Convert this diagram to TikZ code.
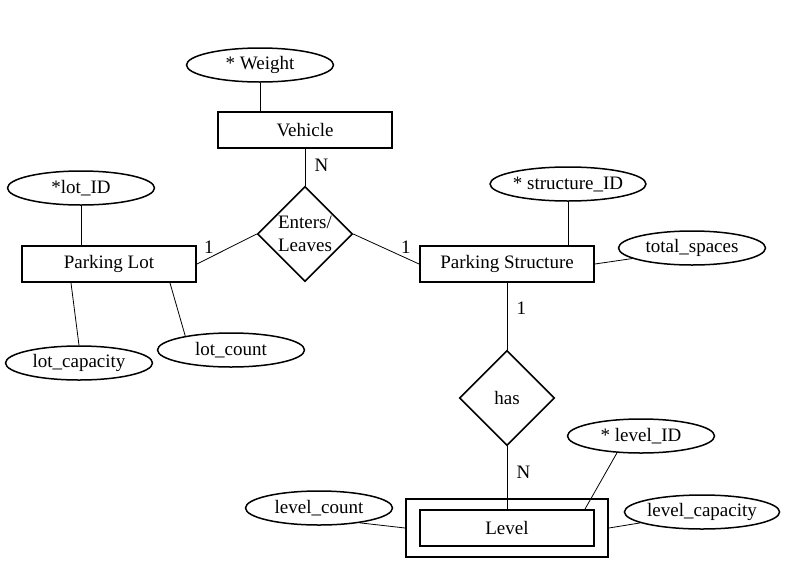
\documentclass[tikz,border=0pt]{standalone}
\usepackage{fontspec}
\setmainfont{Liberation Serif}
\usepackage{tikz}
\usetikzlibrary{shapes.geometric,fit}

\begin{document}
\begin{tikzpicture}[x=1pt,y=-1pt,
        every node/.style={font=\fontsize{19}{23}\selectfont},
        entity/.style={draw,line width=1.9pt,minimum width=174pt,minimum height=36pt,inner sep=0pt},
        attr/.style={draw,ellipse,line width=1.5pt,minimum width=147pt,minimum height=34pt,inner sep=0pt},
        rel/.style={draw,diamond,line width=1.6pt,minimum width=95pt,minimum height=95pt,inner sep=-3pt,align=center},
        link/.style={line width=0.8pt}]
        \useasboundingbox (0,0) rectangle (792,576);
        \node[entity] (vehicle) at (305,130) {Vehicle};
        \node[entity] (lot) at (109,264) {Parking Lot};
        \node[entity] (structure) at (507,264) {Parking Structure};
        \node[entity] (level) at (507,528) {Level};
        \node[draw,line width=1.9pt,fit=(level),inner xsep=13pt,inner ysep=10pt] (levelframe) {};
        \node[rel] (enters) at (305,234) {Enters/\\Leaves};
        \node[rel] (has) at (507,398) {has};
        \foreach \name/\x/\y/\txt in {
            weight/260/65/{* Weight},
            lotid/81/188/{*lot\_ID},
            lotcap/79/363/{lot\_capacity},
            lotcount/231/350/{lot\_count},
            structid/568/184/{* structure\_ID},
            spaces/692/248/{total\_spaces},
            levelid/641/436/{* level\_ID},
            levelcap/702/512/{level\_capacity},
            levelcount/319/508/{level\_count}
        } {
            \node[attr] (\name) at (\x,\y) {\txt};
        }
        \draw[link] (weight.south) -- (weight.south |- vehicle.north);
        \draw[link] (vehicle) -- node[right=6pt,pos=0.45] {N} (enters);
        \draw[link] (lot.east) -- node[above=1pt,pos=0.2] {1} (enters.west);
        \draw[link] (enters.east) -- node[above=1pt,pos=0.8] {1} (structure.west);
        \draw[link] (lotid.south) -- (lotid.south |- lot.north);
        \draw[link] ([xshift=-38pt]lot.south) -- (lotcap.north);
        \draw[link] ([xshift=61pt]lot.south) -- (lotcount.163);
        \draw[link] (structid.south) -- (structid.south |- structure.north);
        \draw[link] (structure.east) -- (spaces.190);
        \draw[link] (structure) -- node[right=6pt,pos=0.38] {1} (has);
        \draw[link] (has) -- node[right=6pt,pos=0.42] {N} (level);
        \draw[link] ([xshift=78pt]level.north) -- (levelid.215);
        \draw[link] (levelframe.east) -- (levelcap.190);
        \draw[link] (levelframe.west) -- (levelcount.340);
    \end{tikzpicture}
\end{document}
